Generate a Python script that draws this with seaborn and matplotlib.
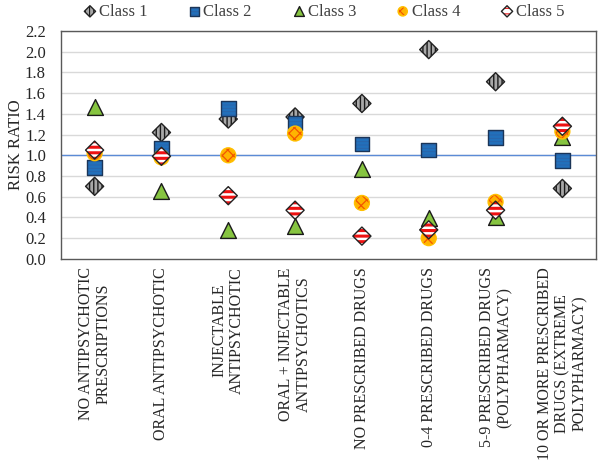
import matplotlib
matplotlib.use("Agg")
import matplotlib.pyplot as plt
from matplotlib.legend_handler import HandlerTuple
import seaborn as sns
import pandas as pd

categories = [
    "NO ANTIPSYCHOTIC\nPRESCRIPTIONS",
    "ORAL ANTIPSYCHOTIC",
    "INJECTABLE\nANTIPSYCHOTIC",
    "ORAL + INJECTABLE\nANTIPSYCHOTICS",
    "NO PRESCRIBED DRUGS",
    "0-4 PRESCRIBED DRUGS",
    "5-9 PRESCRIBED DRUGS\n(POLYPHARMACY)",
    "10 OR MORE PRESCRIBED\nDRUGS (EXTREME\nPOLYPHARMACY)",
]
class_names = ["Class 1", "Class 2", "Class 3", "Class 4", "Class 5"]
class1 = [0.70, 1.22, 1.35, 1.37, 1.50, 2.02, 1.71, 0.68]
class2 = [0.88, 1.07, 1.45, 1.31, 1.11, 1.05, 1.17, 0.95]
class3 = [1.47, 0.66, 0.28, 0.32, 0.87, 0.39, 0.40, 1.18]
class4 = [1.02, 0.98, 1.00, 1.21, 0.54, 0.20, 0.55, 1.23]
class5 = [1.05, 0.99, 0.61, 0.47, 0.22, 0.28, 0.47, 1.28]
yticks = [0.0, 0.2, 0.4, 0.6, 0.8, 1.0, 1.2, 1.4, 1.6, 1.8, 2.0, 2.2]

values = [class1, class2, class3, class4, class5]
rows = []
for name, vals in zip(class_names, values):
    for cat, v in zip(categories, vals):
        rows.append({"category": cat, "risk": v, "cls": name})
df = pd.DataFrame(rows)

# face, hatch pattern, hatch colour, hatch width, outline colour
styles = {
    "Class 1": dict(marker="D", s=85, color="#a8a8a8", hatch="||||", hc="#1a1a1a", hlw=1.0, edge="#222222"),
    "Class 2": dict(marker="s", s=110, color="#2270bb", hatch="-----", hc="#2a64a8", hlw=0.6, edge="#1b3558"),
    "Class 3": dict(marker="^", s=130, color="#86c440", hatch=None, hc=None, hlw=0.5, edge="#1a1a1a"),
    "Class 4": dict(marker="o", s=115, color="#ffb400", hatch="xxx", hc="#f25500", hlw=0.9, edge="#ffc000"),
    "Class 5": dict(marker="D", s=85, color="#ffffff", hatch="---", hc="#ee1111", hlw=2.2, edge="#222222"),
}

sns.set_style("white")
plt.rcParams["font.family"] = ["Liberation Serif", "DejaVu Serif"]

fig = plt.figure(figsize=(6.0, 4.69), dpi=100)
ax = fig.add_axes([0.102, 0.448, 0.891, 0.486])

for yv in yticks[1:]:
    ax.axhline(yv, color="#d9d9d9", lw=1.0, zorder=0)
ax.axhline(1.0, color="#5b8bd6", lw=1.0, zorder=1)

handles = []
for i, name in enumerate(class_names):
    st = styles[name]
    sub = df[df["cls"] == name]
    z = 3 + i * 0.1
    if st["hatch"]:
        with plt.rc_context({"hatch.linewidth": st["hlw"], "hatch.color": st["hc"]}):
            sns.scatterplot(data=sub, x="category", y="risk", ax=ax, legend=False,
                            marker=st["marker"], s=st["s"], color=st["color"],
                            edgecolor=st["hc"], linewidth=0, hatch=st["hatch"], zorder=z)
        fill = ax.collections[-1]
        sns.scatterplot(data=sub, x="category", y="risk", ax=ax, legend=False,
                        marker=st["marker"], s=st["s"], facecolor="none",
                        edgecolor=st["edge"], linewidth=1.0, zorder=z + 0.01)
        outline = ax.collections[-1]
        handles.append((fill, outline))
    else:
        sns.scatterplot(data=sub, x="category", y="risk", ax=ax, legend=False,
                        marker=st["marker"], s=st["s"], color=st["color"],
                        edgecolor=st["edge"], linewidth=1.0, zorder=z)
        handles.append(ax.collections[-1])

ax.set_xlim(-0.5, len(categories) - 0.5)
ax.set_ylim(0, 2.2)
ax.set_yticks(yticks)
ax.set_yticklabels([f"{t:.1f}" for t in yticks], fontsize=12)
ax.set_xticks(range(len(categories)))
ax.set_xticklabels(categories, rotation=90, fontsize=11.5, ha="center", va="top",
                   multialignment="center", linespacing=1.1)
ax.tick_params(axis="both", length=0)
ax.tick_params(axis="y", pad=11)
ax.tick_params(axis="x", pad=6)
ax.set_xlabel("")
ax.set_ylabel("RISK RATIO", fontsize=12, labelpad=1)
for sp in ax.spines.values():
    sp.set_visible(True)
    sp.set_color("#595959")
    sp.set_linewidth(1.0)

with plt.rc_context({"hatch.linewidth": 0.8}):
    leg = fig.legend(handles=handles, labels=class_names, loc="center",
                     bbox_to_anchor=(0.54, 0.975), ncol=5, frameon=False,
                     fontsize=12, handletextpad=0.15, columnspacing=2.4,
                     handlelength=0.8, markerscale=0.62, scatterpoints=1,
                     handler_map={tuple: HandlerTuple(ndivide=1, pad=0)})
for t in leg.get_texts():
    t.set_color("#404040")

fig.savefig("out.png", dpi=100)
